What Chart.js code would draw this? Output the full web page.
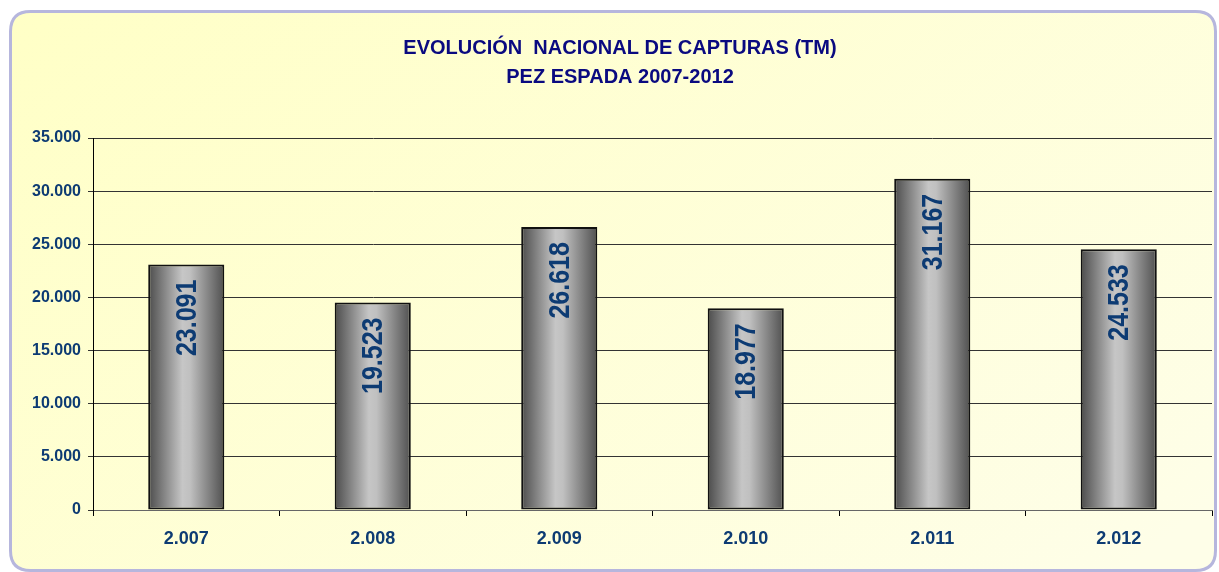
<!DOCTYPE html>
<html>
<head>
<meta charset="utf-8">
<script src="https://cdn.jsdelivr.net/npm/chart.js@4"></script>
<style>
  body { margin: 0; background: #fff; }
  canvas { display: block; }
</style>
</head>
<body>
<canvas id="chartCapturas" width="1219" height="572"></canvas>
<script>
const categories = ['2.007', '2.008', '2.009', '2.010', '2.011', '2.012'];
const capturas = [23091, 19523, 26618, 18977, 31167, 24533];
const titleLines = ['EVOLUCIÓN  NACIONAL DE CAPTURAS (TM)', 'PEZ ESPADA 2007-2012'];

const FONT = "'Liberation Sans', Arial, sans-serif";

function formatThousands(v) {
    return String(Math.round(v)).replace(/\B(?=(\d{3})+(?!\d))/g, '.');
}

function roundRect(ctx, x, y, w, h, r) {
    ctx.beginPath();
    ctx.moveTo(x + r, y);
    ctx.lineTo(x + w - r, y);
    ctx.quadraticCurveTo(x + w, y, x + w, y + r);
    ctx.lineTo(x + w, y + h - r);
    ctx.quadraticCurveTo(x + w, y + h, x + w - r, y + h);
    ctx.lineTo(x + r, y + h);
    ctx.quadraticCurveTo(x, y + h, x, y + h - r);
    ctx.lineTo(x, y + r);
    ctx.quadraticCurveTo(x, y, x + r, y);
    ctx.closePath();
}

// yellow panel with rounded lilac border + title
const panelPlugin = {
    id: 'panel',
    beforeDraw(chart) {
        const ctx = chart.ctx;
        ctx.save();
        ctx.fillStyle = '#ffffff';
        ctx.fillRect(0, 0, chart.width, chart.height);
        const g = ctx.createLinearGradient(10, 10, 700, 900);
        g.addColorStop(0, '#ffffc6');
        g.addColorStop(1, '#fefee8');
        roundRect(ctx, 10.5, 11.5, 1205, 559, 20);
        ctx.fillStyle = g;
        ctx.fill();
        ctx.lineWidth = 3;
        ctx.strokeStyle = '#b6b6dd';
        ctx.stroke();

        ctx.fillStyle = '#0a0a80';
        ctx.font = 'bold 20px ' + FONT;
        ctx.textAlign = 'center';
        ctx.textBaseline = 'middle';
        ctx.fillText(titleLines[0], 620, 48);
        ctx.fillText(titleLines[1], 620, 77);
        ctx.restore();
    }
};

// rotated value labels inside the top of each bar
const barLabelPlugin = {
    id: 'barLabels',
    afterDatasetsDraw(chart) {
        const ctx = chart.ctx;
        const meta = chart.getDatasetMeta(0);
        ctx.save();
        ctx.fillStyle = '#0d3b73';
        ctx.font = 'bold 25px ' + FONT;
        ctx.textAlign = 'right';
        ctx.textBaseline = 'middle';
        meta.data.forEach((bar, i) => {
            ctx.save();
            ctx.translate(bar.x, bar.y + 15);
            ctx.rotate(-Math.PI / 2);
            ctx.scale(1, 1.2);
            ctx.fillText(formatThousands(capturas[i]), 0, 1);
            ctx.restore();
        });
        ctx.restore();
    }
};

function barGradient(context) {
    const chart = context.chart;
    if (!chart.chartArea) {
        return '#999';
    }
    const xs = chart.scales.x;
    const cx = xs.getPixelForValue(context.dataIndex);
    const half = 38;
    const g = chart.ctx.createLinearGradient(cx - half, 0, cx + half, 0);
    g.addColorStop(0, '#4c4c4c');
    g.addColorStop(0.45, '#c6c6c6');
    g.addColorStop(0.55, '#c0c0c0');
    g.addColorStop(1, '#505050');
    return g;
}

const chart = new Chart(document.getElementById('chartCapturas').getContext('2d'), {
    type: 'bar',
    data: {
        labels: categories,
        datasets: [{
            data: capturas,
            backgroundColor: barGradient,
            borderColor: '#111',
            borderWidth: 2,
            borderSkipped: false,
            categoryPercentage: 1,
            barPercentage: 0.408
        }]
    },
    options: {
        responsive: false,
        animation: false,
        layout: {padding: {top: 138, right: 7, left: 0, bottom: 0}},
        plugins: {
            legend: {display: false},
            title: {display: false},
            tooltip: {enabled: false}
        },
        scales: {
            x: {
                afterFit(scale) { scale.height = 62; },
                grid: {
                    offset: true,
                    drawOnChartArea: false,
                    drawTicks: true,
                    tickLength: 6,
                    color: '#000'
                },
                border: {display: true, color: '#666', width: 1},
                ticks: {
                    padding: 12,
                    color: '#0d3b73',
                    font: {family: FONT, size: 18, weight: 'bold'}
                }
            },
            y: {
                min: 0,
                max: 35000,
                afterFit(scale) { scale.width = 93; },
                grid: {
                    color: '#333',
                    lineWidth: 1,
                    tickLength: 5
                },
                border: {display: true, color: '#000', width: 1},
                ticks: {
                    stepSize: 5000,
                    padding: 7,
                    color: '#0d3b73',
                    font: {family: FONT, size: 16, weight: 'bold'},
                    callback: (v) => formatThousands(v)
                }
            }
        }
    },
    plugins: [panelPlugin, barLabelPlugin]
});
</script>
</body>
</html>
